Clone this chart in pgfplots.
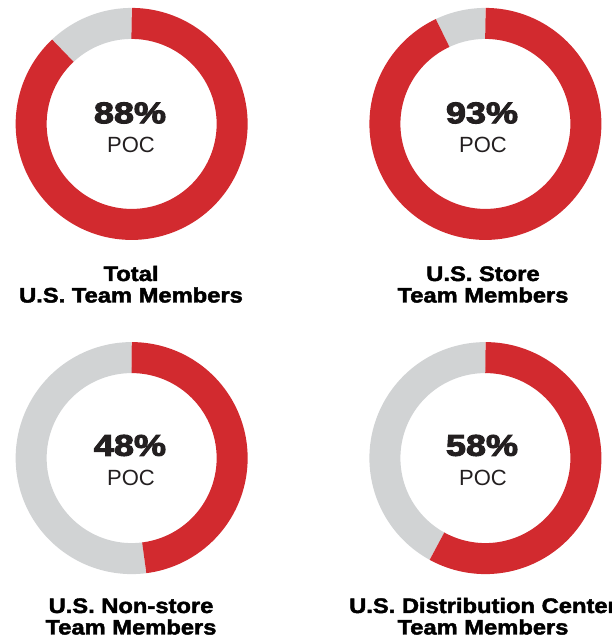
\documentclass[border=0pt]{standalone}
\usepackage{fontspec}
\setmainfont{Liberation Sans}
\newfontfamily\heavy{Liberation Sans Bold}[RawFeature={embolden=2}]
\newfontfamily\heavier{Liberation Sans Bold}[RawFeature={embolden=3}]
\usepackage{pgfplots}
\pgfplotsset{compat=1.18}
\usepgfplotslibrary{polar}
\usepackage{pgfplotstable}
\definecolor{ringred}{HTML}{D22A2F}
\definecolor{ringgray}{HTML}{D1D3D4}
\definecolor{ink}{HTML}{231F20}

% share of POC team members, in percent
\pgfplotstableread{
group pct
total 88
store 93
nonstore 48
dc 58
}\donutdata

% #1 row of the table, #2/#3 centre of the ring (pt)
\newcommand{\donut}[3]{%
  \pgfplotstablegetelem{#1}{pct}\of\donutdata
  \edef\donutval{\pgfplotsretval}%
  \begin{polaraxis}[
    at={(#2,#3)}, anchor=center,
    scale only axis, width=201pt, height=201pt,
    hide axis, clip=false,
    xmin=0, xmax=360, ymin=0, ymax=1]
  \addplot[ringgray, line width=31pt, no marks, samples=180,
    domain=-270:{90-3.6*\donutval}] {1};
  \addplot[ringred, line width=31pt, no marks, samples=180,
    domain={90-3.6*\donutval}:90] {1};
  \end{polaraxis}
  \node[anchor=base, text=ink, inner sep=0pt] at (#2-1,#3+3.2)
    {\scalebox{1.2}[1]{\fontsize{30}{36}\heavier\donutval\%}};
  \node[anchor=base, text=ink, inner sep=0pt] at (#2,#3-26.5)
    {\fontsize{22}{26}\selectfont POC};
}

\newcommand{\grouplabel}[4]{% x, baseline y, line 1, line 2
  \node[anchor=base, text=black, inner sep=0pt] at (#1,#2)
    {\scalebox{1.13}[1]{\fontsize{21}{25}\heavy #3}};
  \node[anchor=base, text=black, inner sep=0pt] at (#1,#2-21.5)
    {\scalebox{1.13}[1]{\fontsize{21}{25}\heavy #4}};
}

\begin{document}
\begin{tikzpicture}[x=1pt, y=1pt]
\useasboundingbox (0,0) rectangle (612,641);
\clip (0,0) rectangle (612,641);
\donut{0}{131}{514.5}
\donut{1}{483}{514.5}
\donut{2}{131}{182}
\donut{3}{483}{182}
\grouplabel{131}{360}{Total}{U.S. Team Members}
\grouplabel{483}{360}{U.S. Store}{Team Members}
\grouplabel{131}{28}{U.S. Non-store}{Team Members}
\grouplabel{483}{28}{U.S. Distribution Center}{Team Members}
\end{tikzpicture}
\end{document}
